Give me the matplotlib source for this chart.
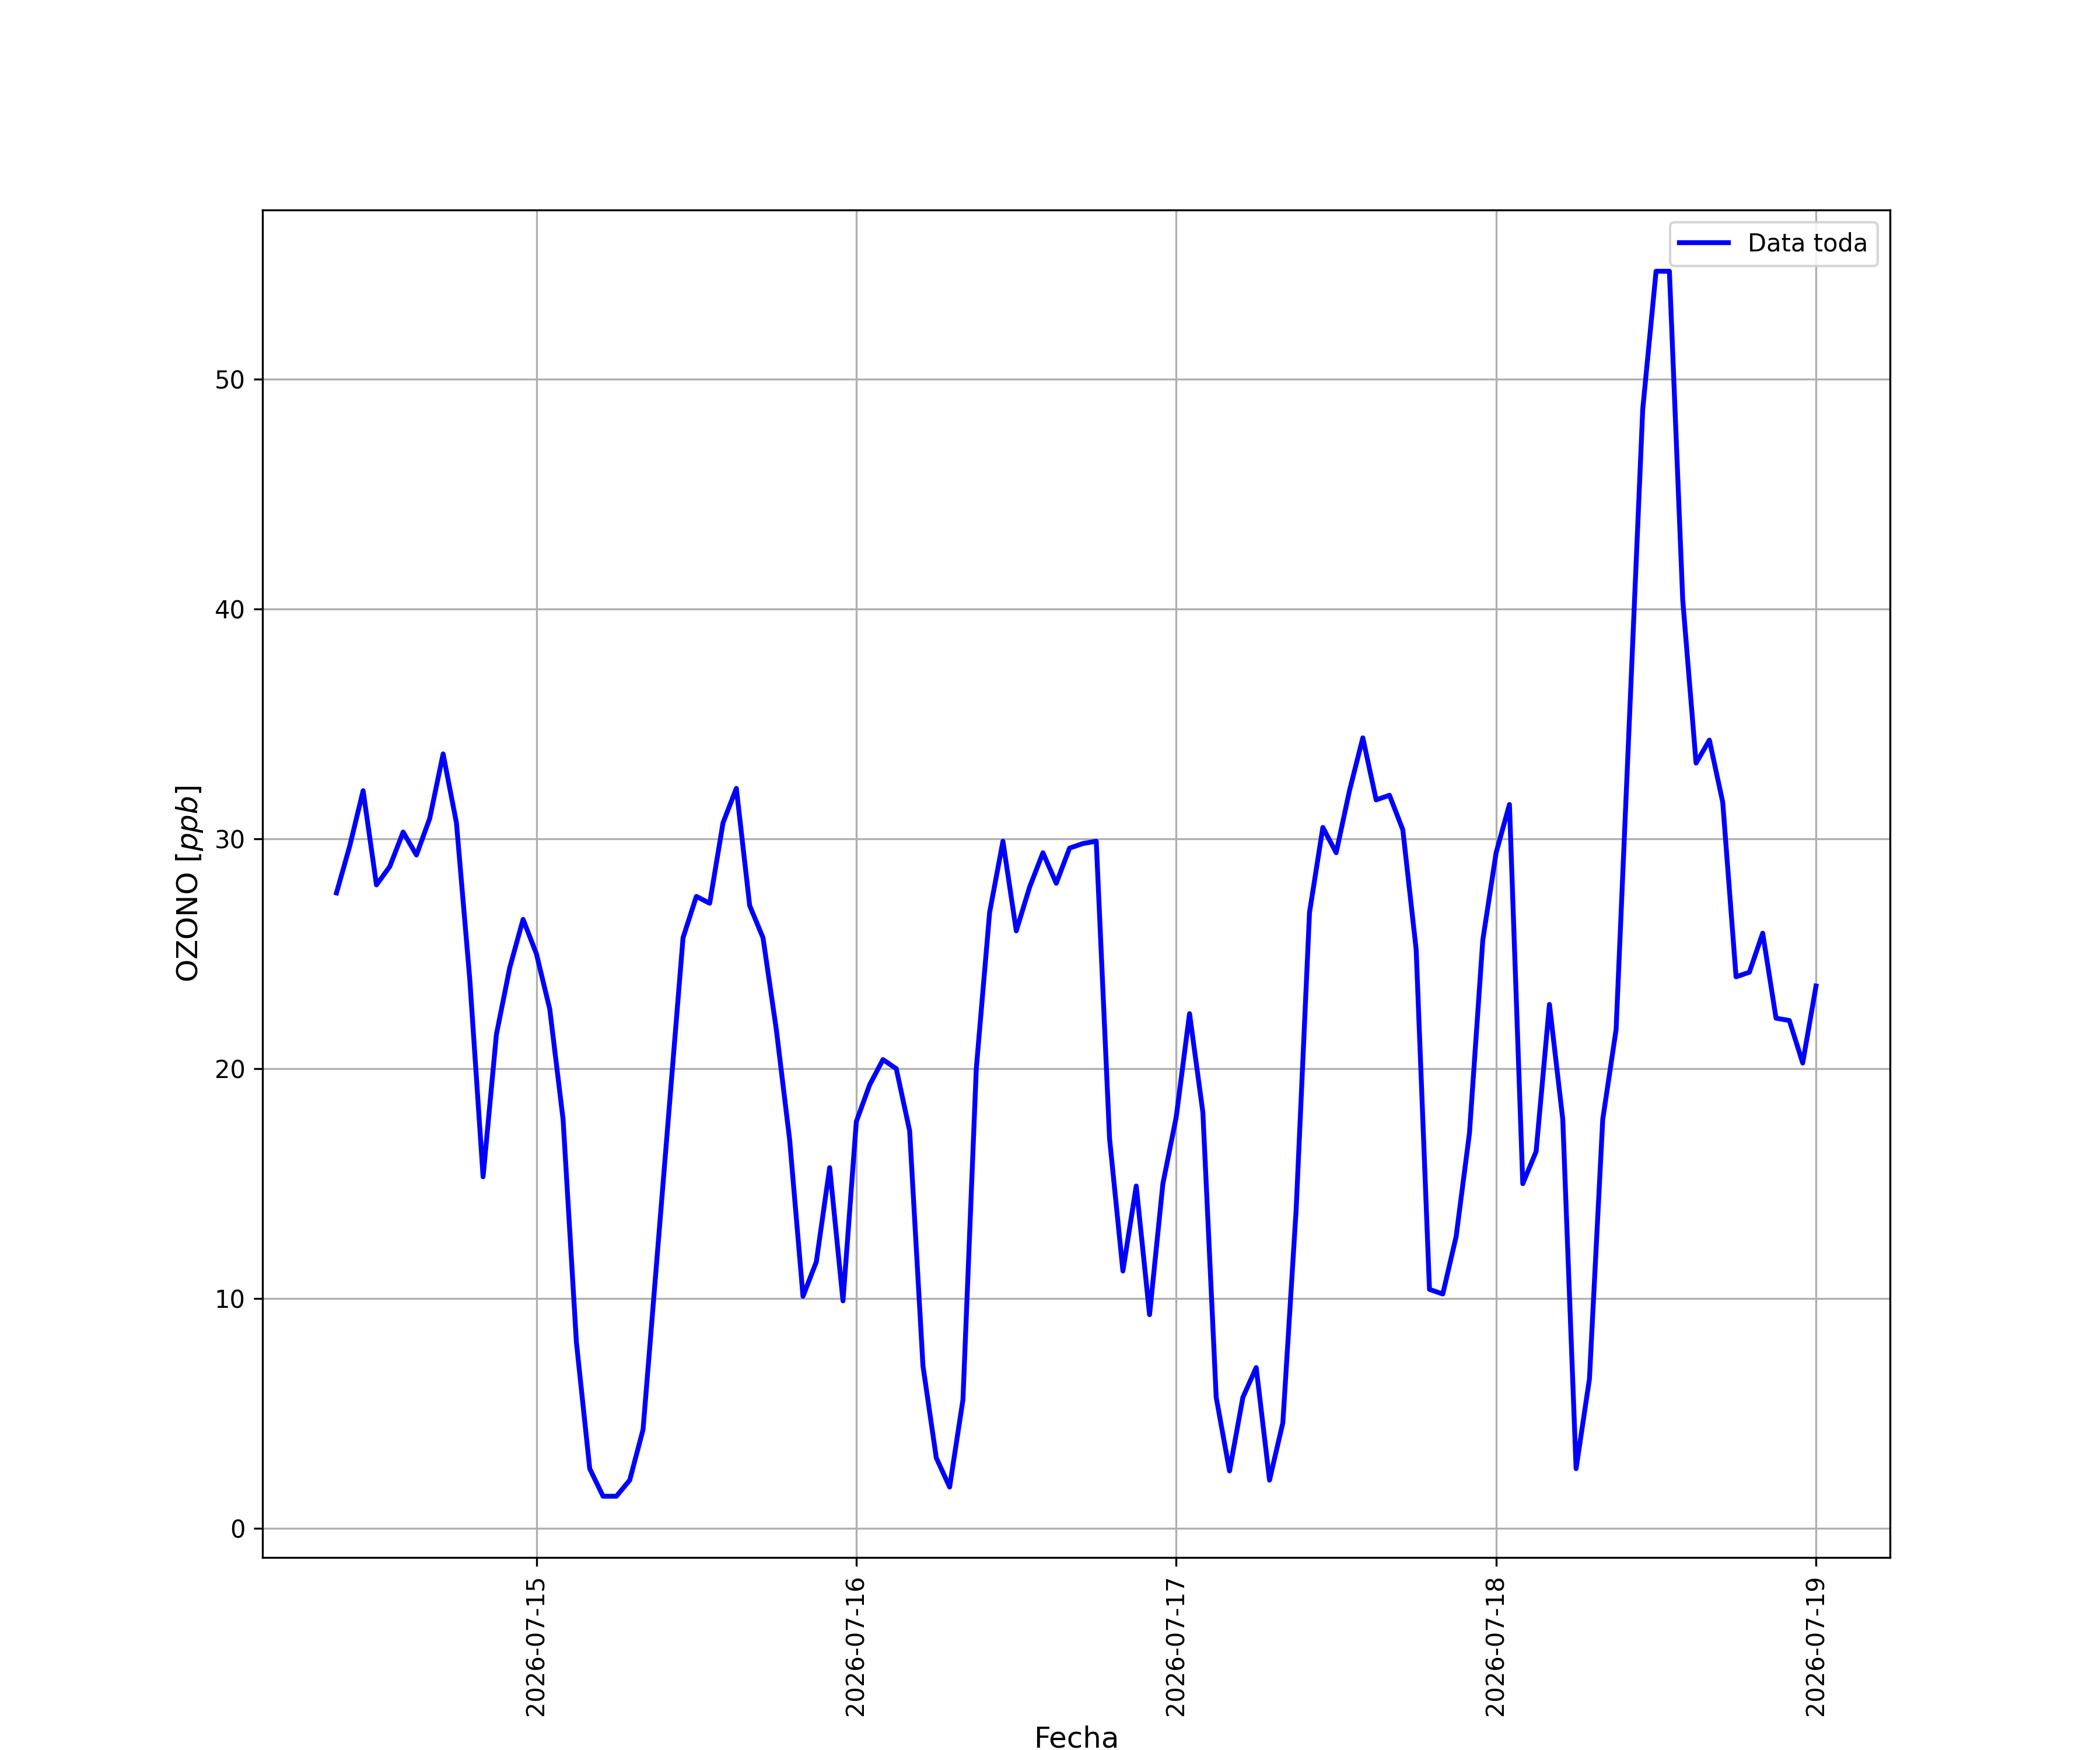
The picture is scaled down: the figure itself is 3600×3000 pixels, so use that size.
import pandas as pd
import matplotlib
matplotlib.use("Agg")
import matplotlib.pyplot as plt

# datos horarios de ozono (faltan algunas horas en el registro)
inicio = "2026-07-14 09:00"
fin = "2026-07-19 00:00"
horas_faltantes = ["2026-07-15 09:00", "2026-07-15 10:00", "2026-07-18 10:00"]

ozono = [
    27.65, 29.7, 32.1, 28.0, 28.8, 30.3, 29.3, 30.9, 33.7, 30.7, 23.9, 15.3,
    21.5, 24.4, 26.5, 25.0, 22.6, 17.8, 8.1, 2.6, 1.4, 1.4, 2.1, 4.3,
    25.7, 27.5, 27.2, 30.7, 32.2, 27.1, 25.7, 21.7, 16.9, 10.1, 11.6, 15.7,
    9.9, 17.7, 19.3, 20.4, 20.0, 17.3, 7.07, 3.07, 1.8, 5.6, 20.0, 26.8,
    29.9, 26.0, 27.9, 29.4, 28.07, 29.6, 29.8, 29.9, 16.96, 11.2, 14.9, 9.3,
    15.0, 17.9, 22.4, 18.1, 5.7, 2.5, 5.7, 7.0, 2.1, 4.6, 13.9, 26.8,
    30.5, 29.4, 32.1, 34.4, 31.7, 31.9, 30.4, 25.2, 10.4, 10.2, 12.7, 17.2,
    25.6, 29.4, 31.5, 15.0, 16.4, 22.8, 17.8, 2.6, 6.5, 17.8, 21.7,
    48.7, 54.7, 54.7, 40.4, 33.3, 34.3, 31.6, 24.0, 24.2, 25.9, 22.2,
    22.1, 20.25, 23.6,
]

fechas = pd.date_range(inicio, fin, freq="h")
fechas = fechas.drop(pd.to_datetime(horas_faltantes))

# grafico
fig, ax = plt.subplots(figsize=(12, 10), dpi=300)
ax.plot(fechas, ozono, color="blue", linewidth=2, label="Data toda")
ax.set_xlabel("Fecha", fontsize=12)
ax.set_ylabel("OZONO $[ppb]$", fontsize=12)
plt.xticks(rotation=90)
ax.grid(True)
ax.legend(loc="upper right")
fig.savefig("out.png", dpi=300)
